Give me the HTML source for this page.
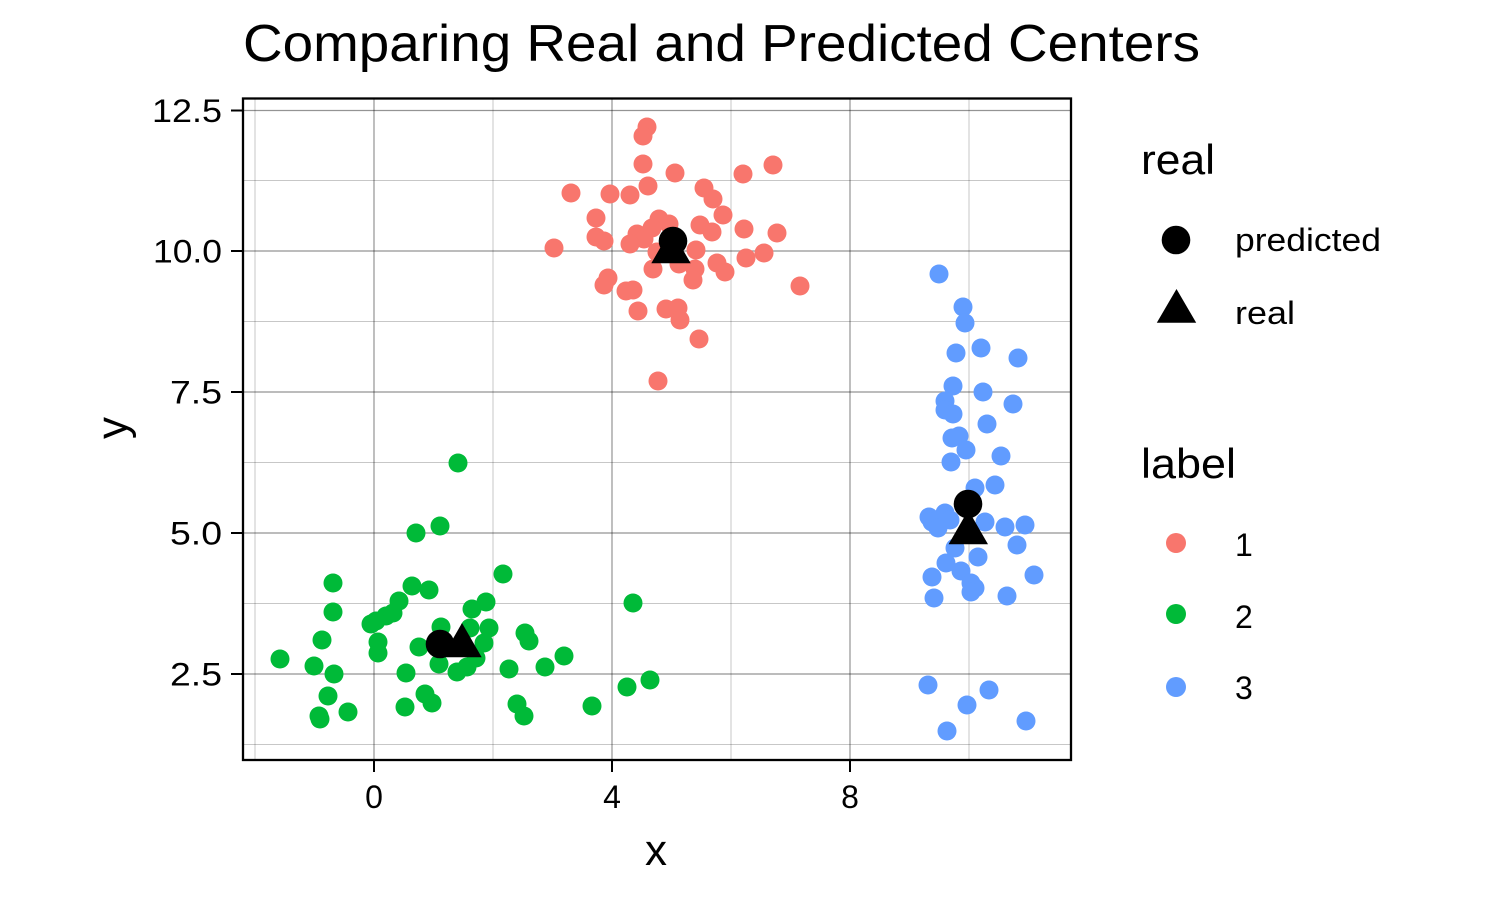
<!DOCTYPE html>
<html>
<head>
<meta charset="utf-8">
<style>
html,body{margin:0;padding:0;background:#fff;}
svg{display:block;}
text{font-family:"Liberation Sans",Arial,sans-serif;fill:#000;}
</style>
</head>
<body>
<svg width="1500" height="900" viewBox="0 0 1500 900" xmlns="http://www.w3.org/2000/svg">
<rect width="1500" height="900" fill="#fff"/>
<!-- title -->
<text x="243" y="61" font-size="52" textLength="957" lengthAdjust="spacingAndGlyphs">Comparing Real and Predicted Centers</text>

<!-- grid minor -->
<g stroke="#000" stroke-opacity="0.22" stroke-width="1">
<line x1="255" y1="98" x2="255" y2="760"/>
<line x1="493" y1="98" x2="493" y2="760"/>
<line x1="731" y1="98" x2="731" y2="760"/>
<line x1="969" y1="98" x2="969" y2="760"/>
<line x1="243" y1="744.5" x2="1071" y2="744.5"/>
<line x1="243" y1="603.5" x2="1071" y2="603.5"/>
<line x1="243" y1="462.5" x2="1071" y2="462.5"/>
<line x1="243" y1="321.5" x2="1071" y2="321.5"/>
<line x1="243" y1="180.5" x2="1071" y2="180.5"/>
</g>
<!-- grid major -->
<g stroke="#000" stroke-opacity="0.42" stroke-width="1.2">
<line x1="374" y1="98" x2="374" y2="760"/>
<line x1="612" y1="98" x2="612" y2="760"/>
<line x1="850" y1="98" x2="850" y2="760"/>
<line x1="243" y1="674" x2="1071" y2="674"/>
<line x1="243" y1="533" x2="1071" y2="533"/>
<line x1="243" y1="392" x2="1071" y2="392"/>
<line x1="243" y1="251" x2="1071" y2="251"/>
<line x1="243" y1="110.5" x2="1071" y2="110.5"/>
</g>

<!-- red points -->
<g fill="#F8766D">
<circle cx="647" cy="127" r="9.5"/><circle cx="643" cy="136" r="9.5"/><circle cx="643" cy="164" r="9.5"/>
<circle cx="675" cy="173" r="9.5"/><circle cx="743" cy="174" r="9.5"/><circle cx="773" cy="165" r="9.5"/>
<circle cx="571" cy="193" r="9.5"/><circle cx="610" cy="194" r="9.5"/><circle cx="630" cy="195" r="9.5"/>
<circle cx="648" cy="186" r="9.5"/><circle cx="704" cy="188" r="9.5"/><circle cx="713" cy="199" r="9.5"/>
<circle cx="723" cy="215" r="9.5"/><circle cx="596" cy="218" r="9.5"/><circle cx="659" cy="219" r="9.5"/>
<circle cx="669" cy="224" r="9.5"/><circle cx="700" cy="225" r="9.5"/><circle cx="712" cy="232" r="9.5"/>
<circle cx="744" cy="229" r="9.5"/><circle cx="777" cy="233" r="9.5"/><circle cx="596" cy="237" r="9.5"/>
<circle cx="604" cy="241" r="9.5"/><circle cx="637" cy="234" r="9.5"/><circle cx="644" cy="239" r="9.5"/>
<circle cx="630" cy="244" r="9.5"/><circle cx="652" cy="228" r="9.5"/><circle cx="554" cy="248" r="9.5"/>
<circle cx="657" cy="252" r="9.5"/><circle cx="696" cy="250" r="9.5"/><circle cx="746" cy="258" r="9.5"/>
<circle cx="764" cy="253" r="9.5"/><circle cx="653" cy="269" r="9.5"/><circle cx="679" cy="264" r="9.5"/>
<circle cx="695" cy="269" r="9.5"/><circle cx="693" cy="280" r="9.5"/><circle cx="717" cy="263" r="9.5"/>
<circle cx="725" cy="272" r="9.5"/><circle cx="608" cy="278" r="9.5"/><circle cx="604" cy="285" r="9.5"/>
<circle cx="633" cy="290" r="9.5"/><circle cx="626" cy="291" r="9.5"/><circle cx="638" cy="311" r="9.5"/>
<circle cx="666" cy="309" r="9.5"/><circle cx="678" cy="308" r="9.5"/><circle cx="680" cy="320" r="9.5"/>
<circle cx="699" cy="339" r="9.5"/><circle cx="800" cy="286" r="9.5"/><circle cx="658" cy="381" r="9.5"/>
</g>

<!-- green points -->
<g fill="#00BA38">
<circle cx="458" cy="463" r="9.5"/><circle cx="416" cy="533" r="9.5"/><circle cx="440" cy="526" r="9.5"/>
<circle cx="503" cy="574" r="9.5"/><circle cx="333" cy="583" r="9.5"/><circle cx="333" cy="612" r="9.5"/>
<circle cx="412" cy="586" r="9.5"/><circle cx="429" cy="590" r="9.5"/><circle cx="399" cy="601" r="9.5"/>
<circle cx="393" cy="613" r="9.5"/><circle cx="386" cy="616" r="9.5"/><circle cx="376" cy="621" r="9.5"/>
<circle cx="371" cy="624" r="9.5"/><circle cx="322" cy="640" r="9.5"/><circle cx="378" cy="642" r="9.5"/>
<circle cx="378" cy="653" r="9.5"/><circle cx="280" cy="659" r="9.5"/><circle cx="314" cy="666" r="9.5"/>
<circle cx="334" cy="674" r="9.5"/><circle cx="406" cy="673" r="9.5"/><circle cx="419" cy="647" r="9.5"/>
<circle cx="441" cy="627" r="9.5"/><circle cx="439" cy="664" r="9.5"/><circle cx="457" cy="672" r="9.5"/>
<circle cx="467" cy="667" r="9.5"/><circle cx="472" cy="609" r="9.5"/><circle cx="486" cy="602" r="9.5"/>
<circle cx="470" cy="628" r="9.5"/><circle cx="489" cy="628" r="9.5"/><circle cx="484" cy="643" r="9.5"/>
<circle cx="476" cy="658" r="9.5"/><circle cx="525" cy="633" r="9.5"/><circle cx="529" cy="641" r="9.5"/>
<circle cx="509" cy="669" r="9.5"/><circle cx="545" cy="667" r="9.5"/><circle cx="564" cy="656" r="9.5"/>
<circle cx="633" cy="603" r="9.5"/><circle cx="627" cy="687" r="9.5"/><circle cx="650" cy="680" r="9.5"/>
<circle cx="592" cy="706" r="9.5"/><circle cx="517" cy="704" r="9.5"/><circle cx="524" cy="716" r="9.5"/>
<circle cx="425" cy="694" r="9.5"/><circle cx="432" cy="703" r="9.5"/><circle cx="405" cy="707" r="9.5"/>
<circle cx="328" cy="696" r="9.5"/><circle cx="319" cy="716" r="9.5"/><circle cx="348" cy="712" r="9.5"/>
<circle cx="320" cy="719" r="9.5"/>
</g>

<!-- blue points -->
<g fill="#619CFF">
<circle cx="939" cy="274" r="9.5"/><circle cx="963" cy="307" r="9.5"/><circle cx="965" cy="323" r="9.5"/>
<circle cx="981" cy="348" r="9.5"/><circle cx="956" cy="353" r="9.5"/><circle cx="1018" cy="358" r="9.5"/>
<circle cx="953" cy="386" r="9.5"/><circle cx="983" cy="392" r="9.5"/><circle cx="1013" cy="404" r="9.5"/>
<circle cx="945" cy="401" r="9.5"/><circle cx="945" cy="410" r="9.5"/><circle cx="953" cy="414" r="9.5"/>
<circle cx="987" cy="424" r="9.5"/><circle cx="952" cy="438" r="9.5"/><circle cx="959" cy="436" r="9.5"/>
<circle cx="966" cy="450" r="9.5"/><circle cx="1001" cy="456" r="9.5"/><circle cx="951" cy="462" r="9.5"/>
<circle cx="975" cy="488" r="9.5"/><circle cx="995" cy="485" r="9.5"/><circle cx="929" cy="517" r="9.5"/>
<circle cx="932" cy="522" r="9.5"/><circle cx="945" cy="513" r="9.5"/><circle cx="938" cy="528" r="9.5"/>
<circle cx="950" cy="520" r="9.5"/><circle cx="985" cy="522" r="9.5"/><circle cx="1005" cy="527" r="9.5"/>
<circle cx="1025" cy="525" r="9.5"/><circle cx="1017" cy="545" r="9.5"/><circle cx="955" cy="548" r="9.5"/>
<circle cx="978" cy="557" r="9.5"/><circle cx="946" cy="563" r="9.5"/><circle cx="961" cy="571" r="9.5"/>
<circle cx="932" cy="577" r="9.5"/><circle cx="971" cy="583" r="9.5"/><circle cx="975" cy="588" r="9.5"/>
<circle cx="971" cy="592" r="9.5"/><circle cx="934" cy="598" r="9.5"/><circle cx="1007" cy="596" r="9.5"/>
<circle cx="1034" cy="575" r="9.5"/><circle cx="928" cy="685" r="9.5"/><circle cx="989" cy="690" r="9.5"/>
<circle cx="967" cy="705" r="9.5"/><circle cx="1026" cy="721" r="9.5"/><circle cx="947" cy="731" r="9.5"/>
</g>

<!-- centers -->
<g fill="#000">
<circle cx="673" cy="241" r="14.3"/>
<polygon points="671,229 690.7,263.3 651.3,263.3"/>
<circle cx="440" cy="644" r="14.3"/>
<polygon points="462,623 481.7,657.3 442.3,657.3"/>
<circle cx="968" cy="504" r="14.3"/>
<polygon points="968.3,510 988,544.3 948.6,544.3"/>
</g>

<!-- panel border -->
<rect x="243" y="98.5" width="828" height="661.5" fill="none" stroke="#000" stroke-width="2.3"/>

<!-- ticks -->
<g stroke="#000" stroke-width="2">
<line x1="231" y1="110.5" x2="243" y2="110.5"/>
<line x1="231" y1="251" x2="243" y2="251"/>
<line x1="231" y1="392" x2="243" y2="392"/>
<line x1="231" y1="533" x2="243" y2="533"/>
<line x1="231" y1="674" x2="243" y2="674"/>
<line x1="374" y1="760" x2="374" y2="772"/>
<line x1="612" y1="760" x2="612" y2="772"/>
<line x1="850" y1="760" x2="850" y2="772"/>
</g>

<!-- tick labels -->
<g font-size="32" text-anchor="end">
<text x="222" y="122" textLength="70" lengthAdjust="spacingAndGlyphs">12.5</text>
<text x="222" y="262.5" textLength="69" lengthAdjust="spacingAndGlyphs">10.0</text>
<text x="222" y="403.5" textLength="52" lengthAdjust="spacingAndGlyphs">7.5</text>
<text x="222" y="544.5" textLength="52" lengthAdjust="spacingAndGlyphs">5.0</text>
<text x="222" y="685.5" textLength="52" lengthAdjust="spacingAndGlyphs">2.5</text>
</g>
<g font-size="32" text-anchor="middle">
<text x="374" y="808">0</text>
<text x="612" y="808">4</text>
<text x="850" y="808">8</text>
</g>

<!-- axis titles -->
<text x="656" y="865" font-size="44" text-anchor="middle">x</text>
<text transform="translate(127,428) rotate(-90)" font-size="44" text-anchor="middle">y</text>

<!-- legend: real -->
<text x="1141" y="174" font-size="42" textLength="74" lengthAdjust="spacingAndGlyphs">real</text>
<circle cx="1176" cy="240" r="14.3" fill="#000"/>
<polygon points="1176.5,289 1196.2,322.7 1156.8,322.7" fill="#000"/>
<text x="1235" y="251" font-size="32" textLength="146" lengthAdjust="spacingAndGlyphs">predicted</text>
<text x="1235" y="324" font-size="32" textLength="60" lengthAdjust="spacingAndGlyphs">real</text>

<!-- legend: label -->
<text x="1141" y="478" font-size="42" textLength="95" lengthAdjust="spacingAndGlyphs">label</text>
<circle cx="1176" cy="543" r="10" fill="#F8766D"/>
<circle cx="1176" cy="614" r="10" fill="#00BA38"/>
<circle cx="1176" cy="687" r="10" fill="#619CFF"/>
<text x="1235" y="556" font-size="32">1</text>
<text x="1235" y="628" font-size="32">2</text>
<text x="1235" y="699" font-size="32">3</text>
</svg>
</body>
</html>
